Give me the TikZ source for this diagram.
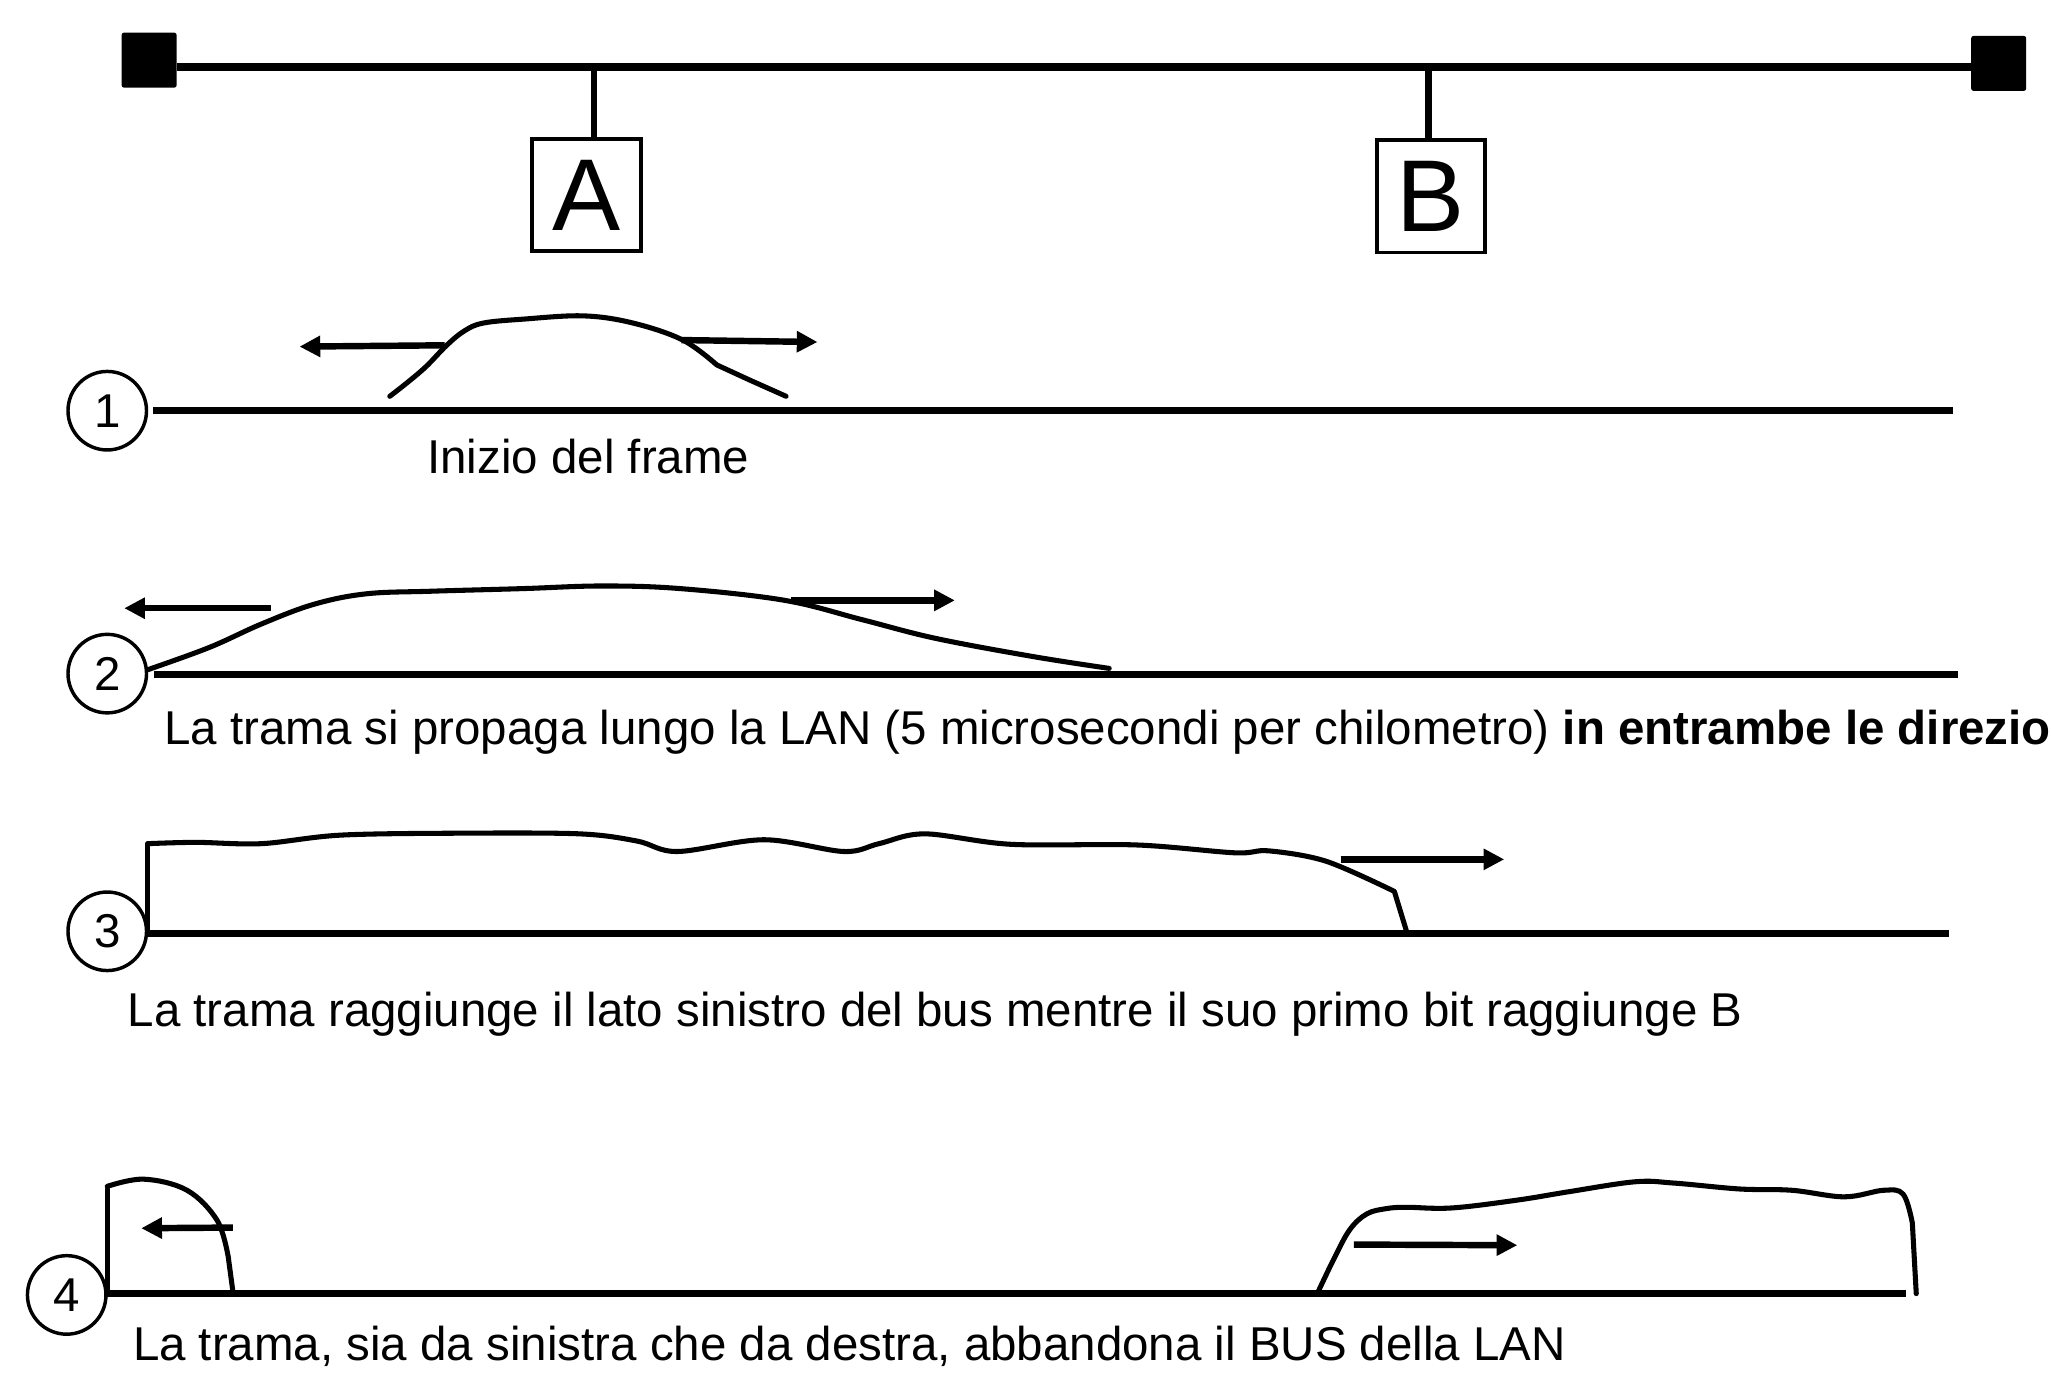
\documentclass[tikz,border=0pt]{standalone}
\usepackage{fontspec}
\setmainfont{Liberation Sans}
\usetikzlibrary{arrows.meta}
\begin{document}
\begin{tikzpicture}[x=0.01cm,y=-0.01cm,
  txt/.style={font=\fontsize{10.32}{12}\selectfont, inner sep=0pt, anchor=base west},
  numcirc/.style={draw, circle, line width=0.75pt, minimum size=0.6cm, inner sep=0pt, font=\fontsize{10.32}{12}\selectfont},
  term/.style={fill=black, rounded corners=0.5pt, minimum width=0.42cm, minimum height=0.42cm, inner sep=0pt},
  station/.style={draw, line width=0.85pt, minimum width=0.83cm, minimum height=0.86cm, inner sep=0pt, font=\fontsize{22.2}{26}\selectfont},
  busline/.style={line width=1.76pt},
  stub/.style={line width=1.4pt},
  rowline/.style={line width=1.5pt},
  wave/.style={line width=1.1pt, line join=round, line cap=round},
  dirarrow/.style={line width=1.4pt, -{Triangle[length=4.5pt,width=4.4pt]}}
]
\useasboundingbox (0,0) rectangle (1568,1065);

% ---- top bus ----
\node[term] (tl) at (114,46) {};
\node[term] (tr) at (1528,48.5) {};
\coordinate (bl) at (135,51);
\coordinate (br) at (1507,51);
\draw[busline] (bl) -- (br);
\node[station] (A) at (448.5,149) {A};
\node[station] (B) at (1094,150) {B};
\coordinate (sa) at (454,51);
\coordinate (sb) at (1092,51);
\draw[stub] (sa) -- (sa |- A.north);
\draw[stub] (sb) -- (sb |- B.north);

% ---- row 1 ----
\node[numcirc] (c1) at (82,314) {1};
\coordinate (l1s) at (117,314);
\coordinate (l1e) at (1493,314);
\draw[rowline] (l1s) -- (l1e);
\draw[wave] plot[smooth, tension=0.6] coordinates {(298,303) (312,292) (326,280) (341.5,264) (355,253) (369.5,247) (400,244) (446,241.5) (484,247) (522,260) (548,279)} -- (573,290.5) -- (601,303);
\coordinate (a1s) at (340,264);
\coordinate (a1e) at (229,265);
\draw[dirarrow] (a1s) -- (a1e);
\coordinate (a2s) at (521,260);
\coordinate (a2e) at (625,261.5);
\draw[dirarrow] (a2s) -- (a2e);
\node[txt] (t1) at (326,362) {Inizio del frame};

% ---- row 2 ----
\node[numcirc] (c2) at (82,515) {2};
\coordinate (l2s) at (118,516);
\coordinate (l2e) at (1497,516);
\draw[rowline] (l2s) -- (l2e);
\draw[wave] plot[smooth, tension=0.6] coordinates {(113,512) (160,495) (200,477) (240,462) (280,454) (330,452) (400,450) (460,448) (520,450) (600,459) (660,474) (715,488) (790,502) (848,511)};
\coordinate (b1s) at (207,465);
\coordinate (b1e) at (95,465);
\draw[dirarrow] (b1s) -- (b1e);
\coordinate (b2s) at (605,459);
\coordinate (b2e) at (730,459);
\draw[dirarrow] (b2s) -- (b2e);
\node[txt] (t2) at (125,569) {La trama si propaga lungo la LAN (5 microsecondi per chilometro) \textbf{in entrambe le direzio}};

% ---- row 3 ----
\node[numcirc] (c3) at (82,712) {3};
\coordinate (l3s) at (113,714);
\coordinate (l3e) at (1490,714);
\draw[rowline] (l3s) -- (l3e);
\coordinate (v3) at (113,645);
\draw[wave] (l3s) -- (v3);
\draw[wave] plot[smooth, tension=0.55] coordinates {(113,645) (150,644) (200,645) (260,638.5) (350,637) (443,637.5) (487,643) (518,651) (584,642) (645,651) (672,645) (707,637.5) (773,645.5) (869,646) (944,652) (970,650.5) (1014,658.5) (1066,681.5)} -- (1075,711);
\coordinate (d1s) at (1025,657);
\coordinate (d1e) at (1150,657);
\draw[dirarrow] (d1s) -- (d1e);
\node[txt] (t3) at (97,785) {La trama raggiunge il lato sinistro del bus mentre il suo primo bit raggiunge B};

% ---- row 4 ----
\node[numcirc] (c4) at (51,990) {4};
\coordinate (l4s) at (81,989);
\coordinate (l4e) at (1457,989);
\draw[rowline] (l4s) -- (l4e);
\coordinate (v4) at (82,909);
\coordinate (v4b) at (82,989);
\draw[wave] (v4b) -- (v4);
\draw[wave] plot[smooth, tension=0.6] coordinates {(82,907) (110,901.5) (143,910) (166,933) (174.5,961)} -- (178,987);
\coordinate (e1s) at (178,938.5);
\coordinate (e1e) at (108,939);
\draw[dirarrow] (e1s) -- (e1e);
\draw[wave] plot[smooth, tension=0.6] coordinates {(1008,987) (1020,962) (1032,940) (1045,928) (1060,924) (1075,923) (1110,923.5) (1160,917.5) (1200,911) (1250,903.5) (1280,904.5) (1330,909) (1370,910) (1410,915) (1440,910) (1455,913) (1462,935)} -- (1465,989);
\coordinate (e2s) at (1035,951.5);
\coordinate (e2e) at (1160,952);
\draw[dirarrow] (e2s) -- (e2e);
\node[txt] (t4) at (101,1040) {La trama, sia da sinistra che da destra, abbandona il BUS della LAN};
\end{tikzpicture}
\end{document}
